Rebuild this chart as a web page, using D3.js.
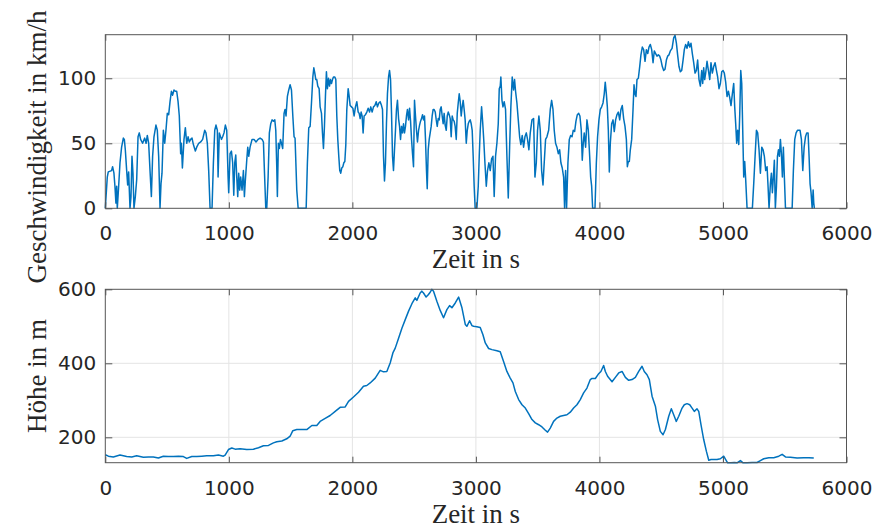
<!DOCTYPE html>
<html>
<head>
<meta charset="utf-8">
<script src="https://cdn.jsdelivr.net/npm/d3@7"></script>
<style>
  body { margin: 0; background: #fff; }
  .tick text { font-family: "DejaVu Sans", sans-serif; font-size: 20px; fill: #262626; }
  .label { font-family: "Liberation Serif", serif; font-size: 27px; fill: #262626; }
</style>
</head>
<body>
<div class="canvas"></div>
<script>
// Geschwindigkeit (km/h) über Zeit (s)
const speedTime = [0, 16, 24, 51, 59, 70, 78, 86, 92, 97, 105, 119, 132, 146, 154, 162, 173, 181, 189, 200, 208, 216, 224, 232, 243, 254, 265, 275, 286, 302, 319, 330, 340, 351, 362, 373, 383, 394, 410, 421, 432, 443, 451, 459, 470, 481, 491, 502, 513, 524, 535, 545, 556, 567, 578, 589, 599, 610, 616, 624, 637, 648, 659, 670, 680, 691, 702, 713, 729, 740, 756, 772, 788, 805, 815, 826, 837, 848, 864, 875, 886, 896, 907, 913, 923, 940, 950, 961, 972, 983, 994, 999, 1010, 1021, 1031, 1040, 1048, 1056, 1064, 1072, 1080, 1088, 1096, 1107, 1118, 1126, 1134, 1145, 1153, 1161, 1172, 1188, 1204, 1220, 1237, 1253, 1269, 1280, 1288, 1299, 1307, 1318, 1328, 1339, 1350, 1361, 1372, 1380, 1388, 1393, 1401, 1409, 1418, 1426, 1436, 1447, 1455, 1463, 1474, 1485, 1496, 1507, 1518, 1528, 1536, 1550, 1561, 1626, 1636, 1647, 1658, 1669, 1680, 1688, 1696, 1704, 1712, 1720, 1731, 1739, 1750, 1758, 1766, 1774, 1782, 1790, 1798, 1807, 1815, 1823, 1831, 1839, 1847, 1858, 1866, 1874, 1882, 1890, 1898, 1906, 1914, 1923, 1931, 1939, 1947, 1955, 1966, 1974, 1982, 1993, 2004, 2014, 2025, 2036, 2047, 2055, 2063, 2071, 2079, 2087, 2095, 2106, 2117, 2128, 2139, 2149, 2160, 2171, 2182, 2193, 2203, 2214, 2225, 2236, 2244, 2252, 2260, 2268, 2276, 2284, 2293, 2301, 2309, 2317, 2325, 2333, 2341, 2349, 2357, 2365, 2374, 2382, 2390, 2398, 2406, 2414, 2422, 2430, 2438, 2446, 2455, 2463, 2471, 2479, 2487, 2495, 2503, 2511, 2519, 2527, 2536, 2544, 2552, 2560, 2568, 2576, 2584, 2592, 2600, 2606, 2614, 2622, 2630, 2638, 2646, 2654, 2662, 2671, 2679, 2687, 2695, 2703, 2711, 2719, 2727, 2735, 2743, 2751, 2760, 2768, 2776, 2784, 2792, 2800, 2808, 2816, 2824, 2832, 2841, 2849, 2857, 2865, 2873, 2881, 2889, 2897, 2905, 2913, 2922, 2930, 2938, 2946, 2954, 2962, 2970, 2978, 2986, 2994, 3008, 3019, 3027, 3035, 3046, 3055, 3064, 3073, 3084, 3094, 3105, 3116, 3127, 3138, 3148, 3159, 3170, 3181, 3189, 3197, 3202, 3211, 3219, 3229, 3240, 3251, 3262, 3273, 3283, 3294, 3305, 3313, 3321, 3332, 3343, 3354, 3364, 3375, 3386, 3397, 3408, 3418, 3429, 3440, 3454, 3467, 3478, 3489, 3499, 3510, 3521, 3532, 3543, 3553, 3564, 3575, 3589, 3602, 3613, 3624, 3634, 3645, 3656, 3667, 3678, 3688, 3699, 3710, 3718, 3726, 3734, 3745, 3756, 3767, 3778, 3788, 3799, 3810, 3821, 3832, 3842, 3853, 3861, 3869, 3877, 3888, 3899, 3910, 3921, 3929, 3937, 3945, 3964, 3975, 3985, 3996, 4007, 4018, 4029, 4039, 4047, 4056, 4064, 4072, 4080, 4088, 4099, 4110, 4120, 4131, 4142, 4153, 4164, 4174, 4185, 4196, 4207, 4218, 4226, 4234, 4242, 4250, 4261, 4272, 4280, 4288, 4296, 4304, 4315, 4326, 4336, 4347, 4358, 4369, 4380, 4391, 4401, 4412, 4423, 4434, 4444, 4455, 4466, 4477, 4488, 4498, 4509, 4520, 4531, 4542, 4552, 4563, 4574, 4588, 4601, 4612, 4623, 4633, 4644, 4655, 4666, 4677, 4687, 4698, 4709, 4720, 4731, 4741, 4752, 4763, 4774, 4785, 4795, 4806, 4817, 4828, 4836, 4844, 4852, 4860, 4871, 4882, 4893, 4903, 4914, 4925, 4936, 4947, 4957, 4968, 4979, 4990, 5001, 5011, 5022, 5033, 5044, 5055, 5065, 5076, 5087, 5095, 5103, 5111, 5119, 5128, 5136, 5144, 5152, 5160, 5168, 5176, 5184, 5195, 5238, 5249, 5260, 5271, 5281, 5292, 5303, 5314, 5325, 5335, 5346, 5357, 5365, 5373, 5384, 5392, 5400, 5408, 5416, 5424, 5433, 5441, 5449, 5457, 5465, 5473, 5481, 5489, 5497, 5506, 5560, 5570, 5581, 5592, 5603, 5614, 5624, 5635, 5646, 5657, 5668, 5678, 5689, 5697, 5705, 5713, 5722, 5730, 5735, 5740];
const speedValue = [0, 24, 28, 29, 32, 27, 17, 4, 17, 0, 12, 35, 47, 54, 53, 45, 29, 18, 28, 0, 9, 40, 27, 0, 9, 22, 55, 58, 53, 50, 54, 50, 56, 50, 29, 9, 40, 55, 64, 60, 40, 0, 19, 27, 60, 50, 60, 73, 72, 82, 90, 87, 91, 90, 90, 82, 71, 42, 50, 31, 53, 62, 50, 55, 51, 53, 54, 49, 44, 47, 50, 51, 53, 60, 58, 50, 29, 0, 0, 35, 60, 64, 60, 24, 58, 53, 55, 58, 64, 60, 24, 12, 42, 44, 35, 10, 35, 41, 24, 9, 27, 14, 24, 14, 29, 9, 22, 37, 47, 40, 47, 53, 53, 51, 53, 54, 53, 51, 29, 0, 0, 24, 58, 65, 68, 67, 68, 60, 32, 9, 50, 46, 53, 50, 46, 73, 76, 71, 86, 91, 95, 91, 71, 55, 54, 14, 0, 0, 35, 62, 63, 81, 101, 108, 104, 99, 99, 94, 92, 78, 73, 58, 46, 63, 86, 105, 92, 100, 94, 99, 96, 99, 101, 101, 99, 71, 53, 40, 29, 27, 31, 32, 35, 36, 49, 76, 92, 86, 79, 78, 77, 71, 78, 82, 74, 73, 69, 74, 71, 58, 71, 72, 74, 77, 74, 78, 74, 78, 79, 82, 78, 81, 82, 79, 76, 40, 21, 35, 65, 88, 101, 106, 99, 73, 40, 29, 45, 60, 76, 83, 69, 63, 53, 63, 58, 65, 58, 63, 71, 76, 68, 77, 67, 53, 42, 32, 83, 71, 60, 51, 60, 64, 67, 69, 72, 68, 71, 53, 29, 15, 45, 53, 58, 63, 71, 76, 76, 74, 68, 63, 69, 68, 76, 78, 71, 65, 73, 64, 60, 71, 74, 72, 69, 55, 71, 68, 67, 63, 53, 73, 81, 88, 82, 71, 78, 83, 76, 68, 50, 60, 65, 67, 68, 65, 60, 40, 17, 0, 0, 17, 40, 60, 78, 66, 52, 35, 17, 29, 35, 29, 38, 40, 9, 40, 50, 65, 92, 94, 101, 83, 78, 82, 76, 40, 8, 47, 78, 101, 91, 99, 90, 81, 68, 55, 49, 56, 47, 55, 58, 53, 45, 58, 68, 69, 24, 35, 60, 71, 60, 29, 18, 35, 53, 55, 60, 76, 83, 76, 60, 50, 47, 42, 45, 35, 31, 24, 0, 29, 0, 35, 53, 56, 55, 60, 59, 67, 72, 73, 71, 60, 37, 50, 58, 47, 68, 60, 40, 24, 17, 0, 0, 35, 55, 68, 76, 78, 81, 88, 97, 88, 78, 60, 28, 50, 65, 68, 59, 68, 72, 74, 68, 76, 79, 69, 63, 53, 32, 36, 36, 45, 53, 76, 95, 88, 86, 99, 100, 109, 118, 124, 122, 113, 122, 119, 124, 126, 122, 112, 121, 119, 117, 118, 117, 114, 109, 106, 107, 114, 117, 118, 121, 123, 131, 133, 127, 118, 109, 105, 106, 114, 122, 126, 123, 128, 124, 127, 119, 112, 104, 106, 114, 99, 94, 106, 96, 108, 99, 104, 113, 106, 99, 112, 104, 109, 112, 106, 101, 92, 96, 105, 106, 104, 97, 86, 90, 85, 79, 88, 96, 78, 65, 50, 60, 49, 73, 106, 96, 60, 24, 36, 22, 0, 0, 19, 40, 60, 58, 45, 27, 47, 45, 40, 29, 32, 17, 0, 19, 27, 12, 24, 37, 0, 17, 40, 45, 40, 53, 42, 24, 47, 24, 0, 0, 29, 53, 58, 60, 60, 60, 53, 29, 47, 55, 58, 58, 40, 19, 12, 0, 14, 4, 0];

// Höhe (m) über Zeit (s)
const altTime = [0, 25, 65, 119, 173, 214, 254, 308, 349, 389, 430, 470, 510, 551, 592, 632, 659, 700, 740, 781, 821, 875, 916, 956, 970, 997, 1024, 1051, 1091, 1145, 1199, 1240, 1280, 1321, 1361, 1388, 1429, 1469, 1496, 1518, 1550, 1591, 1631, 1672, 1712, 1739, 1780, 1820, 1861, 1901, 1942, 1969, 2009, 2050, 2090, 2117, 2144, 2185, 2225, 2252, 2279, 2306, 2328, 2347, 2374, 2401, 2428, 2455, 2482, 2509, 2522, 2549, 2562, 2576, 2597, 2616, 2630, 2643, 2657, 2684, 2711, 2738, 2765, 2787, 2806, 2833, 2860, 2887, 2914, 2927, 2949, 2968, 2981, 3008, 3035, 3057, 3076, 3103, 3130, 3170, 3197, 3224, 3251, 3278, 3300, 3319, 3346, 3373, 3400, 3427, 3454, 3481, 3508, 3535, 3562, 3580, 3602, 3629, 3656, 3683, 3710, 3737, 3764, 3791, 3818, 3845, 3872, 3899, 3926, 3940, 3967, 3994, 4012, 4034, 4048, 4066, 4102, 4129, 4156, 4183, 4210, 4237, 4264, 4291, 4318, 4345, 4363, 4385, 4404, 4426, 4453, 4471, 4493, 4515, 4534, 4561, 4582, 4606, 4622, 4642, 4669, 4687, 4709, 4731, 4750, 4768, 4790, 4804, 4822, 4844, 4866, 4885, 4903, 4952, 4979, 5006, 5022, 5038, 5065, 5092, 5114, 5141, 5163, 5195, 5236, 5276, 5303, 5330, 5371, 5411, 5452, 5479, 5506, 5546, 5600, 5654, 5695, 5735];
const altValue = [153, 149, 147, 152, 148, 147, 150, 146, 147, 147, 144, 149, 148, 148, 149, 148, 143, 148, 148, 149, 150, 150, 152, 149, 152, 167, 171, 168, 169, 167, 168, 172, 177, 178, 185, 188, 190, 196, 203, 218, 221, 221, 221, 232, 232, 243, 251, 259, 270, 281, 282, 297, 309, 322, 338, 340, 347, 360, 381, 377, 378, 401, 428, 441, 468, 495, 518, 541, 561, 577, 570, 590, 595, 590, 579, 586, 592, 600, 595, 568, 543, 523, 545, 556, 550, 563, 579, 550, 505, 500, 515, 502, 500, 499, 497, 477, 455, 440, 437, 434, 431, 405, 378, 360, 347, 324, 302, 288, 279, 264, 248, 239, 234, 228, 219, 214, 225, 243, 252, 257, 259, 261, 268, 279, 288, 302, 320, 333, 356, 359, 359, 372, 378, 394, 378, 365, 350, 362, 374, 378, 362, 354, 356, 362, 378, 392, 378, 369, 356, 311, 284, 248, 216, 207, 221, 257, 277, 257, 243, 257, 279, 288, 291, 288, 279, 270, 277, 270, 234, 194, 162, 138, 140, 140, 142, 149, 140, 131, 131, 132, 131, 137, 131, 131, 132, 132, 137, 142, 145, 145, 149, 154, 147, 146, 144, 145, 145, 144];

const xTicks = [0, 1000, 2000, 3000, 4000, 5000, 6000];
const speedTicks = [0, 50, 100];
const altTicks = [200, 400, 600];

const width = 879;
const height = 528;
const lineColor = "#0072bd";
const axisColor = "#555555";
const gridColor = "#e4e4e4";

const svg = d3
  .select(".canvas")
  .append("svg")
  .attr("width", width)
  .attr("height", height);

const left = 105.3;
const right = 846.5;
const fmt = d3.format("d");

function panel(opts) {
  const x = d3.scaleLinear().domain([0, 6000]).range([left, right]);
  const y = d3.scaleLinear().domain(opts.yDomain).range([opts.bottom, opts.top]);
  const g = svg.append("g");

  // grid
  g.append("g")
    .selectAll("line.vgrid")
    .data(xTicks.slice(1, -1))
    .enter()
    .append("line")
    .attr("x1", (d) => x(d))
    .attr("x2", (d) => x(d))
    .attr("y1", opts.top)
    .attr("y2", opts.bottom)
    .attr("stroke", gridColor);
  g.append("g")
    .selectAll("line.hgrid")
    .data(opts.yTicks.filter((d) => y(d) > opts.top + 1 && y(d) < opts.bottom - 1))
    .enter()
    .append("line")
    .attr("x1", left)
    .attr("x2", right)
    .attr("y1", (d) => y(d))
    .attr("y2", (d) => y(d))
    .attr("stroke", gridColor);

  // data line
  const pts = opts.t.map((t, i) => [t, opts.v[i]]);
  g.append("path")
    .datum(pts)
    .attr("fill", "none")
    .attr("stroke", lineColor)
    .attr("stroke-width", 1.5)
    .attr("stroke-linejoin", "round")
    .attr("d", d3.line().x((d) => x(d[0])).y((d) => y(d[1])));

  // axes, ticks pointing inward
  const xAxis = g.append("g")
    .attr("transform", `translate(0,${opts.bottom})`)
    .call(d3.axisBottom(x).tickValues(xTicks).tickSize(-6).tickPadding(18).tickFormat(fmt));
  const xAxisTop = g.append("g")
    .attr("transform", `translate(0,${opts.top})`)
    .call(d3.axisTop(x).tickValues(xTicks).tickSize(-6).tickFormat(""));
  const yAxis = g.append("g")
    .attr("transform", `translate(${left},0)`)
    .call(d3.axisLeft(y).tickValues(opts.yTicks).tickSize(-7).tickPadding(9).tickFormat(fmt));
  const yAxisRight = g.append("g")
    .attr("transform", `translate(${right},0)`)
    .call(d3.axisRight(y).tickValues(opts.yTicks).tickSize(-7).tickFormat(""));
  [xAxis, xAxisTop, yAxis, yAxisRight].forEach((a) => {
    a.select(".domain").remove();
    a.selectAll(".tick line").attr("stroke", axisColor);
  });

  // box
  g.append("rect")
    .attr("x", left)
    .attr("y", opts.top)
    .attr("width", right - left)
    .attr("height", opts.bottom - opts.top)
    .attr("fill", "none")
    .attr("stroke", axisColor);

  g.append("text")
    .attr("class", "label")
    .attr("text-anchor", "middle")
    .attr("x", (left + right) / 2)
    .attr("y", opts.xLabelY)
    .text("Zeit in s");

  g.append("text")
    .attr("class", "label")
    .attr("text-anchor", "middle")
    .attr("transform", `translate(46,${opts.yLabelCenter}) rotate(-90)`)
    .text(opts.yLabel);
}

panel({
  t: speedTime,
  v: speedValue,
  top: 34.7,
  bottom: 208.3,
  yDomain: [0, 133.5],
  yTicks: speedTicks,
  xLabelY: 268,
  yLabel: "Geschwindigkeit in km/h",
  yLabelCenter: 147,
});

panel({
  t: altTime,
  v: altValue,
  top: 289.3,
  bottom: 462.7,
  yDomain: [131.4, 600],
  yTicks: altTicks,
  xLabelY: 523,
  yLabel: "Höhe in m",
  yLabelCenter: 376,
});
</script>
</body>
</html>
